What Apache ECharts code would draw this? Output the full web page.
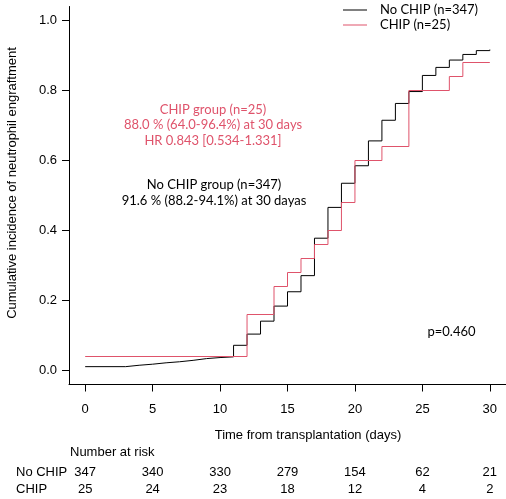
<!DOCTYPE html>
<html>
<head>
<meta charset="utf-8">
<script src="https://cdn.jsdelivr.net/npm/echarts@6/dist/echarts.min.js"></script>
<style>
  html, body { margin: 0; padding: 0; background: #fff; }
  #main { width: 506px; height: 499px; }
</style>
</head>
<body>
<div id="main"></div>
<script>
// step curves, [day, cumulative incidence] (value holds until next day)
var noChipSteps = [[0, 0.011], [3, 0.015], [4, 0.018], [5, 0.022], [6, 0.025], [7, 0.029],
  [8, 0.034], [9, 0.037], [10, 0.039], [11, 0.072], [12, 0.104], [13, 0.141], [14, 0.184],
  [15, 0.225], [16, 0.271], [17, 0.378], [18, 0.466], [19, 0.535], [20, 0.585], [21, 0.656],
  [22, 0.715], [23, 0.763], [24, 0.797], [25, 0.843], [26, 0.866], [27, 0.887], [28, 0.903],
  [29, 0.914], [30, 0.917]];
var chipSteps = [[0, 0.04], [12, 0.16], [14, 0.24], [15, 0.28], [16, 0.32], [17, 0.36],
  [18, 0.40], [19, 0.48], [20, 0.60], [22, 0.64], [24, 0.80], [27, 0.84], [28, 0.88], [30, 0.88]];

var seriesNames = ['No CHIP (n=347)', 'CHIP (n=25)'];

// axes
var xTicks = [0, 5, 10, 15, 20, 25, 30];
var yTicks = [0, 0.2, 0.4, 0.6, 0.8, 1.0];

// number at risk table
var riskDays = [0, 5, 10, 15, 20, 25, 30];
var riskNoChip = [347, 340, 330, 279, 154, 62, 21];
var riskChip = [25, 24, 23, 18, 12, 4, 2];

(function(){
  'use strict';

  var pink = '#DF536B';
  var sans = 'Liberation Sans, Arial, sans-serif';
  var hum = 'Lato, Noto Sans, sans-serif';

  function riskAxis(counts, offset) {
    return {
      type: 'value', min: -1.2, max: 31.2, position: 'bottom', offset: offset,
      axisLine: { show: false }, axisTick: { show: false }, splitLine: { show: false },
      axisLabel: {
        customValues: riskDays, margin: 0, color: '#000',
        fontFamily: sans, fontSize: 13,
        formatter: function (v) { return String(counts[riskDays.indexOf(v)]); }
      }
    };
  }

  function txt(x, y, text, color, font, extra) {
    var el = {
      type: 'text', x: x, y: y,
      style: {
        text: text, fill: color, font: font,
        align: 'center', verticalAlign: 'middle',
        textAlign: 'center', textVerticalAlign: 'middle'
      }
    };
    if (extra) { for (var k in extra) { el.style[k] = extra[k]; } }
    return el;
  }

  var myChart = echarts.init(document.getElementById('main'));

  var option = {
    animation: false,
    backgroundColor: '#fff',
    grid: { left: 69, right: 0, top: 6.5, bottom: 114.5, containLabel: false },
    legend: {
      orient: 'vertical', left: 343, top: 2.5, padding: 0,
      icon: 'rect', itemWidth: 24, itemHeight: 1, itemGap: 0,
      textStyle: { fontFamily: hum, fontSize: 13, color: '#000', lineHeight: 15, padding: [0, 0, 0, 8] },
      data: seriesNames
    },
    xAxis: [
      {
        type: 'value', min: -1.2, max: 31.2, position: 'bottom',
        axisLine: { show: true, onZero: false, lineStyle: { color: '#000', width: 1 } },
        axisTick: { show: true, customValues: xTicks, length: 7, lineStyle: { color: '#000' } },
        axisLabel: { customValues: xTicks, margin: 18, color: '#000', fontFamily: sans, fontSize: 13 },
        splitLine: { show: false }
      },
      riskAxis(riskNoChip, 81),
      riskAxis(riskChip, 98)
    ],
    yAxis: {
      type: 'value', min: -0.04, max: 1.04,
      axisLine: { show: true, onZero: false, lineStyle: { color: '#000', width: 1 } },
      axisTick: { show: true, customValues: yTicks, length: 7, lineStyle: { color: '#000' } },
      axisLabel: {
        customValues: yTicks, margin: 12, color: '#000', fontFamily: sans, fontSize: 13,
        formatter: function (v) { return v.toFixed(1); }
      },
      splitLine: { show: false }
    },
    series: [
      {
        name: seriesNames[0], type: 'line', step: 'end', symbol: 'none',
        color: '#000', lineStyle: { color: '#000', width: 1 },
        data: noChipSteps
      },
      {
        name: seriesNames[1], type: 'line', step: 'end', symbol: 'none',
        color: pink, lineStyle: { color: pink, width: 1 },
        data: chipSteps
      }
    ],
    graphic: [
      // y axis title
      {
        type: 'text', x: 12, y: 183, rotation: Math.PI / 2,
        style: {
          text: 'Cumulative incidence of neutrophil engraftment', fill: '#000',
          font: '13px ' + sans, align: 'center', verticalAlign: 'middle',
          textAlign: 'center', textVerticalAlign: 'middle'
        }
      },
      txt(308, 435, 'Time from transplantation (days)', '#000', '13px ' + sans),
      txt(70, 452, 'Number at risk', '#000', '13px ' + sans, { align: 'left', textAlign: 'left' }),
      txt(16, 472, 'No CHIP', '#000', '13px ' + sans, { align: 'left', textAlign: 'left' }),
      txt(16, 489, 'CHIP', '#000', '13px ' + sans, { align: 'left', textAlign: 'left' }),
      txt(213, 125.3, 'CHIP group (n=25)\n88.0 % (64.0-96.4%) at 30 days\nHR 0.843 [0.534-1.331]',
        pink, '13px ' + hum, { lineHeight: 15.75 }),
      txt(214, 192.7, 'No CHIP group (n=347)\n91.6 % (88.2-94.1%) at 30 dayas',
        '#000', '13px ' + hum, { lineHeight: 15.5 }),
      txt(451.5, 332, 'p=0.460', '#000', '13px ' + hum)
    ]
  };

  myChart.setOption(option);
}());
</script>
</body>
</html>
